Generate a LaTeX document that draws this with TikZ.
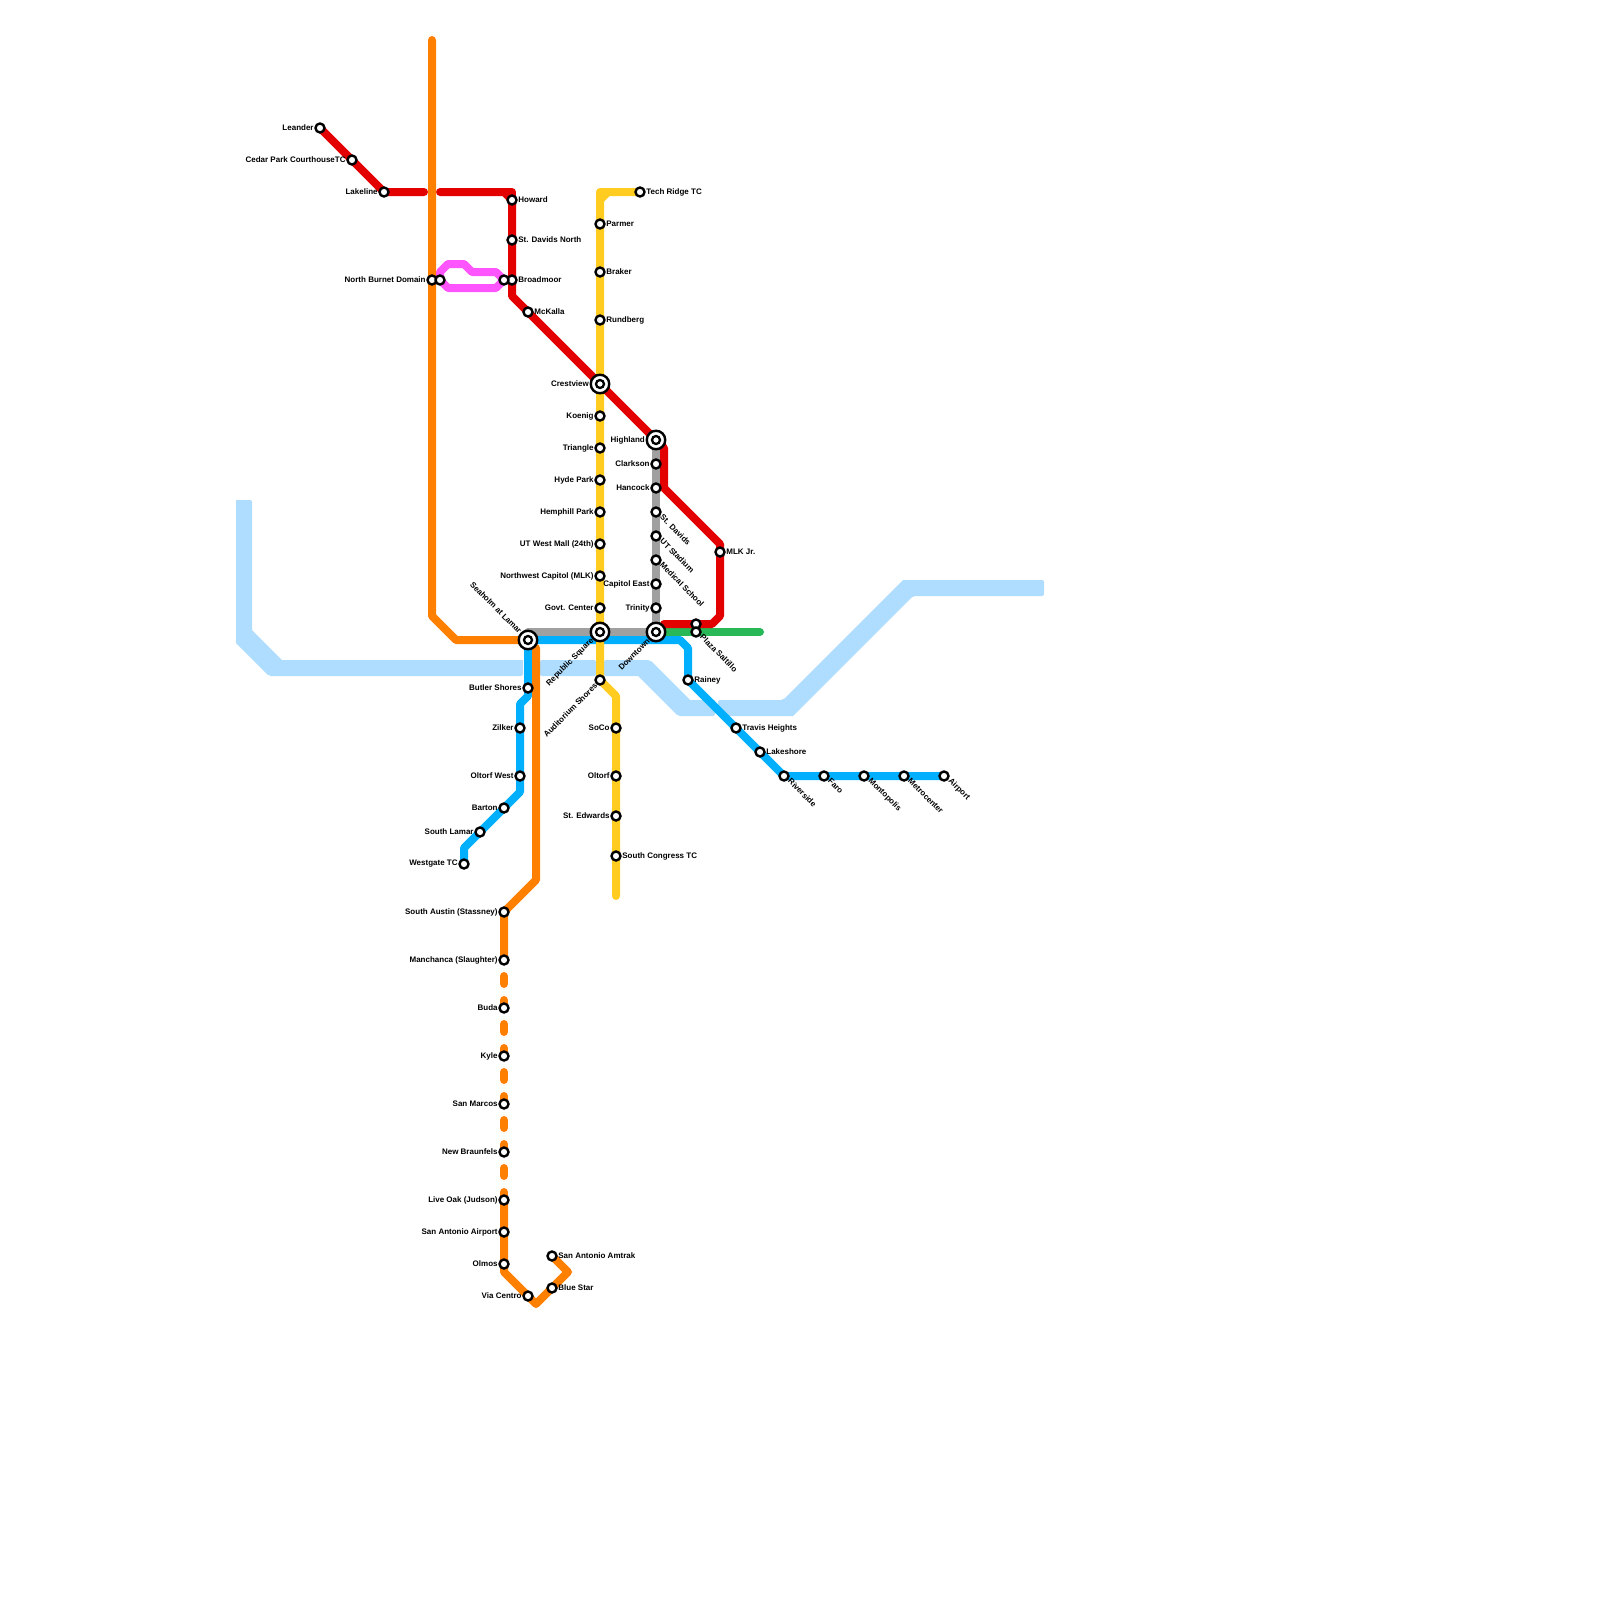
\documentclass[tikz,border=0pt]{standalone}
\usepackage{fontspec}
\setmainfont{Liberation Sans}
\usetikzlibrary{backgrounds}

\definecolor{redline}{HTML}{E20000}
\definecolor{orangeline}{HTML}{FF8000}
\definecolor{yellowline}{HTML}{FFCC1F}
\definecolor{blueline}{HTML}{00B0FF}
\definecolor{grayline}{HTML}{A0A0A0}
\definecolor{greenline}{HTML}{28B858}
\definecolor{pinkline}{HTML}{FF55FF}
\definecolor{riverblue}{HTML}{AEDDFF}

\begin{document}
\begin{tikzpicture}[
  x=1pt, y=-1pt,
  stn/.style={circle, draw=black, line width=2.4pt, fill=white, minimum size=9pt, inner sep=0pt},
  hub/.style={circle, draw=black, line width=2.4pt, fill=white, minimum size=18.5pt, inner sep=0pt, label distance=2.5pt,
    path picture={\draw[line width=2.3pt] (path picture bounding box.center) circle (4pt);}},
  lbl/.style={font=\fontsize{8}{9}\selectfont\bfseries, inner sep=0pt, text=black},
  dlbl/.style={lbl, rotate=-45, anchor=west, xshift=0.4pt, yshift=1.5pt},
  ulbl/.style={lbl, rotate=45, anchor=east},
  tlbl/.style={lbl, rotate=-45, anchor=east},
  route/.style={line width=8pt, line cap=round, line join=round},
  river/.style={fill=riverblue, rounded corners=2pt},
  label distance=0.5pt
]
  \useasboundingbox (0,0) rectangle (1600,1600);

  % Red line stations
  \node[stn, label={[lbl]left:Leander}] (leander) at (320, 128) {};
  \node[stn, label={[lbl]left:Cedar Park CourthouseTC}] (cedarpark) at (352, 160) {};
  \node[stn, label={[lbl]left:Lakeline}] (lakeline) at (384, 192) {};
  \node[stn, label={[lbl]right:Howard}] (howard) at (512, 200) {};
  \node[stn, label={[lbl]right:St. Davids North}] (stdavidsn) at (512, 240) {};
  \node[stn, label={[lbl]right:Broadmoor}] (broadmoor) at (512, 280) {};
  \node[stn, label={[lbl]right:McKalla}] (mckalla) at (528, 312) {};
  \node[hub, label={[lbl]left:Crestview}] (crestview) at (600, 384) {};
  \node[hub, label={[lbl]left:Highland}] (highland) at (656, 440) {};
  \node[stn, label={[lbl]right:MLK Jr.}] (mlk) at (720, 552) {};
  \node[stn] (plazan) at (696, 624) {};

  % Pink link stations
  \node[stn, label={[lbl]left:North Burnet Domain}] (burnet) at (432, 280) {};
  \node[stn] (burnete) at (440, 280) {};
  \node[stn] (broadmoorw) at (504, 280) {};

  % Yellow line stations
  \node[stn, label={[lbl]right:Tech Ridge TC}] (techridge) at (640, 192) {};
  \node[stn, label={[lbl]right:Parmer}] (parmer) at (600, 224) {};
  \node[stn, label={[lbl]right:Braker}] (braker) at (600, 272) {};
  \node[stn, label={[lbl]right:Rundberg}] (rundberg) at (600, 320) {};
  \node[stn, label={[lbl]left:Koenig}] (koenig) at (600, 416) {};
  \node[stn, label={[lbl]left:Triangle}] (triangle) at (600, 448) {};
  \node[stn, label={[lbl]left:Hyde Park}] (hydepark) at (600, 480) {};
  \node[stn, label={[lbl]left:Hemphill Park}] (hemphill) at (600, 512) {};
  \node[stn, label={[lbl]left:UT West Mall (24th)}] (utwest) at (600, 544) {};
  \node[stn, label={[lbl]left:Northwest Capitol (MLK)}] (nwcapitol) at (600, 576) {};
  \node[stn, label={[lbl]left:Govt. Center}] (govt) at (600, 608) {};
  \node[hub, label={[ulbl]225:Republic Square}] (republic) at (600, 632) {};
  \node[stn, label={[ulbl]225:Auditorium Shores}] (auditorium) at (600, 680) {};
  \node[stn, label={[lbl]left:SoCo}] (soco) at (616, 728) {};
  \node[stn, label={[lbl]left:Oltorf}] (oltorf) at (616, 776) {};
  \node[stn, label={[lbl]left:St. Edwards}] (stedwards) at (616, 816) {};
  \node[stn, label={[lbl]right:South Congress TC}] (southcongress) at (616, 856) {};

  % Gray line stations
  \node[stn, label={[lbl]left:Clarkson}] (clarkson) at (656, 464) {};
  \node[stn, label={[lbl]left:Hancock}] (hancock) at (656, 488) {};
  \node[stn, label={[dlbl]-45:St. Davids}] (stdavids) at (656, 512) {};
  \node[stn, label={[dlbl]-45:UT Stadium}] (utstadium) at (656, 536) {};
  \node[stn, label={[dlbl]-45:Medical School}] (medical) at (656, 560) {};
  \node[stn, label={[lbl]left:Capitol East}] (capitoleast) at (656, 584) {};
  \node[stn, label={[lbl]left:Trinity}] (trinity) at (656, 608) {};
  \node[hub, label={[ulbl]225:Downtown}] (downtown) at (656, 632) {};
  \node[hub, label={[tlbl]135:Seaholm at Lamar}] (seaholm) at (528, 640) {};

  % Green line stations
  \node[stn, label={[dlbl]-45:Plaza Saltillo}] (plaza) at (696, 632) {};

  % Blue line stations
  \node[stn, label={[lbl]right:Rainey}] (rainey) at (688, 680) {};
  \node[stn, label={[lbl]right:Travis Heights}] (travis) at (736, 728) {};
  \node[stn, label={[lbl]right:Lakeshore}] (lakeshore) at (760, 752) {};
  \node[stn, label={[dlbl]-45:Riverside}] (riverside) at (784, 776) {};
  \node[stn, label={[dlbl]-45:Faro}] (faro) at (824, 776) {};
  \node[stn, label={[dlbl]-45:Montopolis}] (montopolis) at (864, 776) {};
  \node[stn, label={[dlbl]-45:Metrocenter}] (metrocenter) at (904, 776) {};
  \node[stn, label={[dlbl]-45:Airport}] (airport) at (944, 776) {};
  \node[stn, label={[lbl]left:Butler Shores}] (butler) at (528, 688) {};
  \node[stn, label={[lbl]left:Zilker}] (zilker) at (520, 728) {};
  \node[stn, label={[lbl]left:Oltorf West}] (oltorfw) at (520, 776) {};
  \node[stn, label={[lbl]left:Barton}] (barton) at (504, 808) {};
  \node[stn, label={[lbl]left:South Lamar}] (southlamar) at (480, 832) {};
  \node[stn, label={[lbl]left:Westgate TC}] (westgate) at (464, 864) {};

  % Orange line stations
  \node[stn, label={[lbl]left:South Austin (Stassney)}] (stassney) at (504, 912) {};
  \node[stn, label={[lbl]left:Manchanca (Slaughter)}] (slaughter) at (504, 960) {};
  \node[stn, label={[lbl]left:Buda}] (buda) at (504, 1008) {};
  \node[stn, label={[lbl]left:Kyle}] (kyle) at (504, 1056) {};
  \node[stn, label={[lbl]left:San Marcos}] (sanmarcos) at (504, 1104) {};
  \node[stn, label={[lbl]left:New Braunfels}] (braunfels) at (504, 1152) {};
  \node[stn, label={[lbl]left:Live Oak (Judson)}] (liveoak) at (504, 1200) {};
  \node[stn, label={[lbl]left:San Antonio Airport}] (saairport) at (504, 1232) {};
  \node[stn, label={[lbl]left:Olmos}] (olmos) at (504, 1264) {};
  \node[stn, label={[lbl]left:Via Centro}] (viacentro) at (528, 1296) {};
  \node[stn, label={[lbl]right:Blue Star}] (bluestar) at (552, 1288) {};
  \node[stn, label={[lbl]right:San Antonio Amtrak}] (amtrak) at (552, 1256) {};

  % Bends and free ends
  \coordinate (redw) at (424, 192);
  \coordinate (rede) at (440, 192);
  \coordinate (redc) at (512, 192);
  \coordinate (redb) at (504, 192);
  \coordinate (redd) at (512, 296);
  \coordinate (redf) at (664, 448);
  \coordinate (redg) at (664, 488);
  \coordinate (redh) at (720, 544);
  \coordinate (redi) at (720, 616);
  \coordinate (redj) at (712, 624);
  \coordinate (redk) at (664, 624);
  \coordinate (yelc) at (600, 192);
  \coordinate (yelb) at (608, 192);
  \coordinate (yeld) at (600, 200);
  \coordinate (yele) at (616, 696);
  \coordinate (yelf) at (616, 896);
  \coordinate (grya) at (528, 632);
  \coordinate (grnb) at (760, 632);
  \coordinate (blua) at (680, 640);
  \coordinate (blub) at (688, 648);
  \coordinate (bluc) at (528, 696);
  \coordinate (blud) at (520, 704);
  \coordinate (blue) at (520, 792);
  \coordinate (bluf) at (464, 848);
  \coordinate (orna) at (432, 40);
  \coordinate (ornb) at (432, 616);
  \coordinate (ornc) at (456, 640);
  \coordinate (ornd) at (536, 648);
  \coordinate (orne) at (536, 880);
  \coordinate (ornf) at (504, 976);
  \coordinate (orng) at (504, 1272);
  \coordinate (ornh) at (536, 1304);
  \coordinate (orni) at (568, 1272);
  \coordinate (pnka) at (440, 272);
  \coordinate (pnkb) at (448, 264);
  \coordinate (pnkc) at (464, 264);
  \coordinate (pnkd) at (472, 272);
  \coordinate (pnke) at (496, 272);
  \coordinate (pnkf) at (496, 288);
  \coordinate (pnkg) at (448, 288);

  \begin{scope}[on background layer]
    % River
    \path[river] (236, 500) -- (252, 500) -- (252, 630) [sharp corners] -- (252, 630) -- (282, 660) -- (523, 660) [rounded corners=2pt] -- (523, 676) -- (269, 676) [sharp corners] -- (236, 643) -- cycle;
    \path[river] (540, 660) -- (596, 660) -- (596, 676) -- (540, 676) -- cycle;
    \path[river] (604, 660) -- (650, 660) [sharp corners] -- (690, 700) -- (715, 700) [rounded corners=2pt] -- (715, 716) -- (678, 716) [sharp corners] -- (638, 676) [rounded corners=2pt] -- (604, 676) -- cycle;
    \path[river] (718, 700) -- (783, 700) [sharp corners] -- (903, 580) [rounded corners=2pt] -- (1044, 580) -- (1044, 596) -- (913, 596) [sharp corners] -- (793, 716) [rounded corners=2pt] -- (718, 716) -- cycle;

    % Routes, lowest first
    \draw[route, pinkline] (burnete.center) -- (pnka) -- (pnkb) -- (pnkc) -- (pnkd) -- (pnke) -- (broadmoorw.center) -- (pnkf) -- (pnkg) -- cycle;
    \draw[route, grayline] (grya) -- (republic.center) -- (downtown.center) -- (trinity.center) -- (capitoleast.center) -- (medical.center) -- (utstadium.center) -- (stdavids.center) -- (hancock.center) -- (clarkson.center) -- (highland.center);
    \draw[route, blueline] (seaholm.center) -- (blua) -- (blub) -- (rainey.center) -- (travis.center) -- (lakeshore.center) -- (riverside.center) -- (faro.center) -- (montopolis.center) -- (metrocenter.center) -- (airport.center);
    \draw[route, blueline] (seaholm.center) -- (butler.center) -- (bluc) -- (blud) -- (zilker.center) -- (oltorfw.center) -- (blue) -- (barton.center) -- (southlamar.center) -- (bluf) -- (westgate.center);
    \draw[route, yellowline] (techridge.center) -- (yelb) -- (yeld) -- (parmer.center) -- (braker.center) -- (rundberg.center) -- (crestview.center) -- (koenig.center) -- (triangle.center) -- (hydepark.center) -- (hemphill.center) -- (utwest.center) -- (nwcapitol.center) -- (govt.center) -- (republic.center) -- (auditorium.center) -- (yele) -- (soco.center) -- (oltorf.center) -- (stedwards.center) -- (southcongress.center) -- (yelf);
    \draw[route, yellowline] (yelb) -- (yelc) -- (yeld);
    \draw[route, greenline] (downtown.center) -- (plaza.center) -- (grnb);
    \draw[route, redline] (leander.center) -- (cedarpark.center) -- (lakeline.center) -- (redw);
    \draw[route, redline] (rede) -- (redb) -- (howard.center) -- (stdavidsn.center) -- (broadmoor.center) -- (redd) -- (mckalla.center) -- (crestview.center) -- (highland.center) -- (redf) -- (redg) -- (redh) -- (mlk.center) -- (redi) -- (redj) -- (plazan.center) -- (redk);
    \draw[route, redline] (redb) -- (redc) -- (howard.center);
    \draw[route, orangeline] (orna) -- (burnet.center) -- (ornb) -- (ornc) -- (seaholm.center);
    \draw[route, orangeline] (ornd) -- (orne) -- (stassney.center) -- (slaughter.center);
    \draw[route, orangeline, dash pattern=on 8pt off 16pt] (ornf) -- (liveoak.center);
    \draw[route, orangeline] (liveoak.center) -- (saairport.center) -- (olmos.center) -- (orng) -- (viacentro.center) -- (ornh) -- (bluestar.center) -- (orni) -- (amtrak.center);
  \end{scope}
\end{tikzpicture}
\end{document}
